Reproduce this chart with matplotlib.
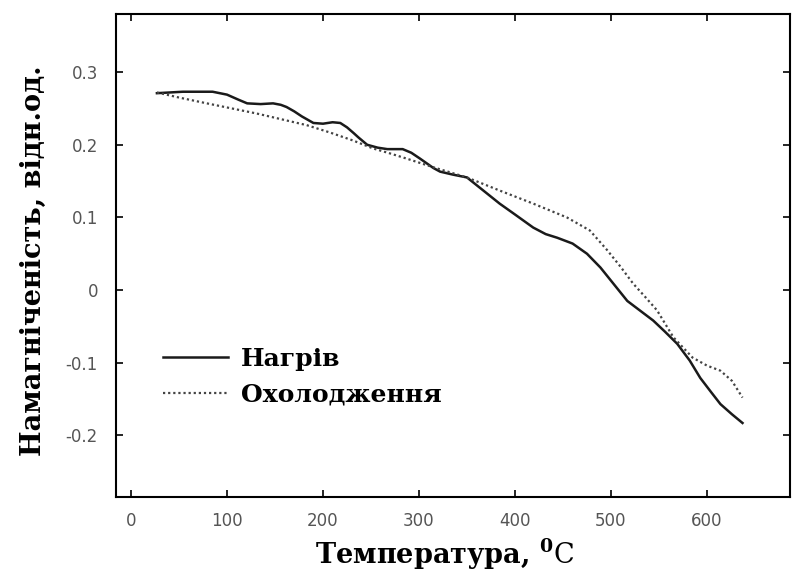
import matplotlib
matplotlib.use("Agg")
import matplotlib.pyplot as plt

plt.rcParams['mathtext.fontset'] = 'custom'
plt.rcParams['mathtext.rm'] = 'DejaVu Serif'
plt.rcParams['mathtext.bf'] = 'DejaVu Serif:bold'

# Нагрів (суцільна лінія)
t_heat = [27, 54, 85, 100, 112, 121, 135, 148, 156, 162, 170, 178, 190, 200,
          210, 218, 225, 232, 237, 246, 257, 267, 283, 292, 301, 315, 322, 335,
          350, 367, 384, 400, 419, 432, 444, 460, 475, 489, 503, 517, 530, 544,
          556, 569, 582, 593, 604, 614, 626, 637]
m_heat = [0.271, 0.273, 0.273, 0.269, 0.262, 0.257, 0.256, 0.257, 0.255, 0.252,
          0.246, 0.239, 0.230, 0.229, 0.231, 0.230, 0.224, 0.216, 0.210, 0.200,
          0.196, 0.194, 0.194, 0.189, 0.181, 0.168, 0.163, 0.159, 0.155, 0.137,
          0.119, 0.104, 0.086, 0.077, 0.072, 0.064, 0.050, 0.031, 0.008, -0.015,
          -0.028, -0.042, -0.057, -0.074, -0.097, -0.121, -0.140, -0.157, -0.171,
          -0.183]

# Охолодження (пунктир)
t_cool = [27, 50, 79, 105, 131, 157, 183, 207, 231, 252, 270, 287, 315, 350,
          384, 419, 454, 478, 496, 510, 523, 536, 548, 565, 585, 600, 614, 626,
          637]
m_cool = [0.272, 0.265, 0.257, 0.250, 0.243, 0.235, 0.227, 0.217, 0.206, 0.195,
          0.188, 0.181, 0.169, 0.155, 0.137, 0.119, 0.100, 0.082, 0.055, 0.032,
          0.009, -0.010, -0.028, -0.065, -0.093, -0.104, -0.111, -0.125, -0.148]

x_ticks = [0, 100, 200, 300, 400, 500, 600]
y_ticks = [-0.2, -0.1, 0, 0.1, 0.2, 0.3]
y_tick_labels = ['-0.2', '-0.1', '0', '0.1', '0.2', '0.3']

fig = plt.figure(figsize=(7.92, 5.74), dpi=100)
ax = fig.add_axes([0.1465, 0.134, 0.851, 0.8416])

ax.plot(t_heat, m_heat, color='#1a1a1a', lw=1.8, label='Нагрів')
ax.plot(t_cool, m_cool, color='#444444', lw=1.6, ls=(0, (1, 1.3)),
        label='Охолодження')

ax.set_xlim(-15.6, 686.5)
ax.set_ylim(-0.285, 0.38)
ax.set_xticks(x_ticks)
ax.set_yticks(y_ticks)
ax.set_yticklabels(y_tick_labels)
ax.tick_params(direction='in', length=5, width=1.2, top=True, right=True,
               labelsize=12, labelcolor='#555555', pad=11)
ax.tick_params(axis='y', pad=13)
for s in ax.spines.values():
    s.set_linewidth(1.5)

serif = {'family': 'DejaVu Serif', 'weight': 'bold', 'size': 19.5}
ax.set_xlabel('Температура, $^{\\mathbf{0}}$$\\mathrm{C}$', fontdict=serif,
              va='center')
ax.set_ylabel('Намагніченість, відн.од.', fontdict=serif, va='center')
ax.xaxis.set_label_coords(0.488, -0.118)
ax.yaxis.set_label_coords(-0.123, 0.49)

ax.legend(loc='center left', bbox_to_anchor=(0.07, 0.249), frameon=False,
          prop={'family': 'DejaVu Serif', 'weight': 'bold', 'size': 18},
          handlelength=2.6, handletextpad=0.5, labelspacing=0.45,
          borderpad=0, borderaxespad=0)

fig.savefig('out.png', dpi=100)
